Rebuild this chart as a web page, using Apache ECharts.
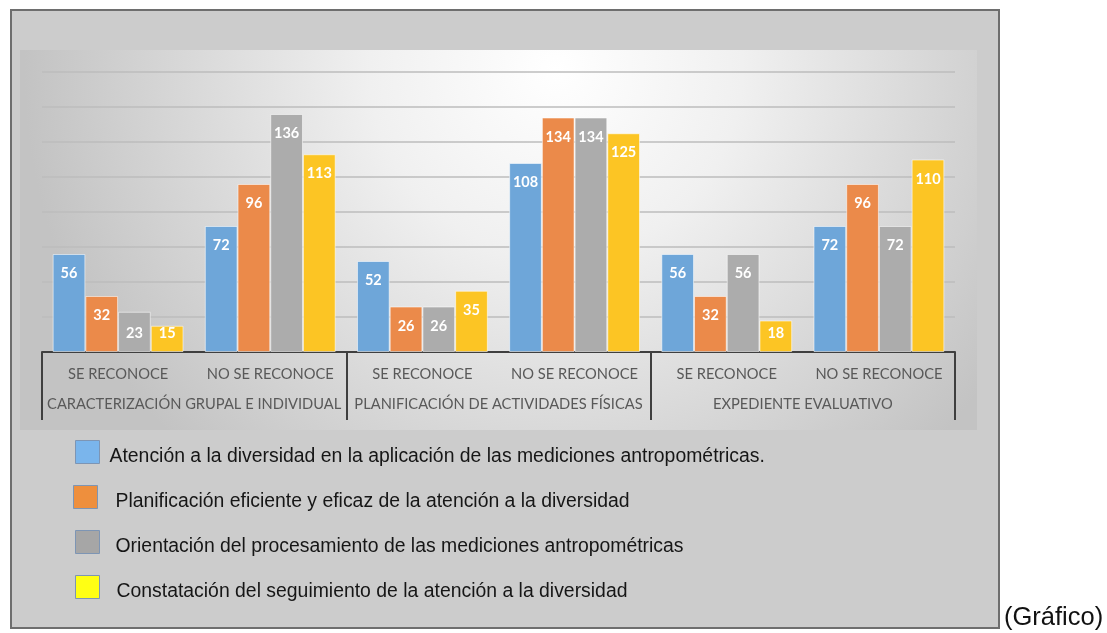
<!DOCTYPE html>
<html>
<head>
<meta charset="utf-8">
<script src="https://cdn.jsdelivr.net/npm/echarts@6/dist/echarts.min.js"></script>
<style>
  html, body { margin: 0; padding: 0; background: #ffffff; }
  #chart { width: 1107px; height: 633px; }
</style>
</head>
<body>
<div id="chart"></div>
<script>
// ---- Data ----
const innerCategories = ["SE RECONOCE", "NO SE RECONOCE", "SE RECONOCE", "NO SE RECONOCE", "SE RECONOCE", "NO SE RECONOCE"];
const groupCategories = ["CARACTERIZACIÓN GRUPAL E INDIVIDUAL", "PLANIFICACIÓN DE ACTIVIDADES FÍSICAS", "EXPEDIENTE EVALUATIVO"];
const seriesNames = [
  "Atención a la diversidad en la aplicación de las mediciones antropométricas.",
  "Planificación eficiente y eficaz de la atención a la diversidad",
  "Orientación del procesamiento de las mediciones antropométricas",
  "Constatación del seguimiento de la atención a la diversidad"
];
const atencion      = [56, 72, 52, 108, 56, 72];
const planificacion = [32, 96, 26, 134, 32, 96];
const orientacion   = [23, 136, 26, 134, 56, 72];
const constatacion  = [15, 113, 35, 125, 18, 110];
const footnote = "(Gráfico)";

// ---- Styles ----
const barColors = ["#6ea6d9", "#eb8a4a", "#acacac", "#fcc524"];
const legendColors = ["#7ab5ec", "#ee8f3d", "#a6a6a6", "#ffff14"];
const legendPos = [
  { left: 75, top: 440, pad: 5 },
  { left: 73, top: 485, pad: 13 },
  { left: 75, top: 530, pad: 11 },
  { left: 75, top: 575, pad: 12 }
];
const allValues = [atencion, planificacion, orientacion, constatacion];

function makeData(values) {
  return values.map(v => {
    if (v < 25) {
      return { value: v, label: { position: "insideBottom", distance: 11 } };
    }
    return v;
  });
}

const chart = echarts.init(document.getElementById("chart"), null, { renderer: "canvas" });

const series = allValues.map((vals, i) => ({
  name: seriesNames[i],
  type: "bar",
  xAxisIndex: 0,
  data: makeData(vals),
  barGap: "0%",
  barCategoryGap: "14%",
  itemStyle: {
    color: barColors[i],
    borderColor: "rgba(255,255,255,0.55)",
    borderWidth: 1
  },
  label: {
    show: true,
    position: "insideTop",
    distance: 12,
    color: "#ffffff",
    fontFamily: "Lato",
    fontWeight: "bold",
    fontSize: 14.5
  },
  emphasis: { disabled: true }
}));

const legends = seriesNames.map((name, i) => ({
  orient: "vertical",
  left: legendPos[i].left,
  top: legendPos[i].top,
  padding: 0,
  itemWidth: 24,
  itemHeight: 23,
  selectedMode: false,
  icon: "rect",
  data: [{
    name: name,
    itemStyle: { color: legendColors[i], borderColor: "#7d95b4", borderWidth: 1 }
  }],
  formatter: "{t|{name}}",
  textStyle: {
    fontFamily: "Liberation Sans",
    fontSize: 19.4,
    color: "#161616",
    rich: {
      t: {
        fontFamily: "Liberation Sans",
        fontSize: 19.4,
        color: "#161616",
        padding: [10, 0, 0, legendPos[i].pad]
      }
    }
  }
}));

const option = {
  animation: false,
  backgroundColor: "#ffffff",
  graphic: [
    {
      type: "rect", z: -100,
      shape: { x: 11, y: 10, width: 988, height: 618 },
      style: { fill: "#cccccc", stroke: "#6e6e6e", lineWidth: 2 }
    },
    {
      type: "rect", z: -99,
      shape: { x: 20, y: 50, width: 957, height: 380 },
      style: {
        fill: {
          type: "radial", x: 0.56, y: 0.05, r: 1.4,
          colorStops: [
            { offset: 0, color: "#ffffff" },
            { offset: 0.35, color: "#f0f0f0" },
            { offset: 1, color: "#c3c3c3" }
          ]
        }
      }
    },
    {
      type: "text", z: 10,
      left: 1004, top: 605,
      style: {
        text: footnote,
        font: "25.5px 'Liberation Sans'",
        fill: "#111111"
      }
    }
  ],
  legend: legends,
  grid: { left: 42, right: 152, top: 72, bottom: 281, containLabel: false },
  xAxis: [
    {
      type: "category",
      data: innerCategories,
      position: "bottom",
      axisLine: { show: true, lineStyle: { color: "#3f3f3f", width: 2 } },
      axisTick: { show: false },
      axisLabel: {
        interval: 0,
        margin: 15,
        color: "#595959",
        fontFamily: "Lato",
        fontSize: 14.7
      }
    },
    {
      type: "category",
      data: groupCategories,
      position: "bottom",
      offset: 0,
      axisLine: { show: false },
      axisTick: { show: true, length: 68, interval: 0, lineStyle: { color: "#3f3f3f", width: 2 } },
      axisLabel: {
        interval: 0,
        margin: 45,
        color: "#595959",
        fontFamily: "Lato",
        fontSize: 14.7
      },
      splitLine: { show: false }
    }
  ],
  yAxis: {
    type: "value",
    min: 0,
    max: 160,
    interval: 20,
    axisLine: { show: false },
    axisTick: { show: false },
    axisLabel: { show: false },
    splitLine: { show: true, lineStyle: { color: "#bdbdbd", width: 1.5 } }
  },
  series: series
};

chart.setOption(option);
</script>
</body>
</html>
